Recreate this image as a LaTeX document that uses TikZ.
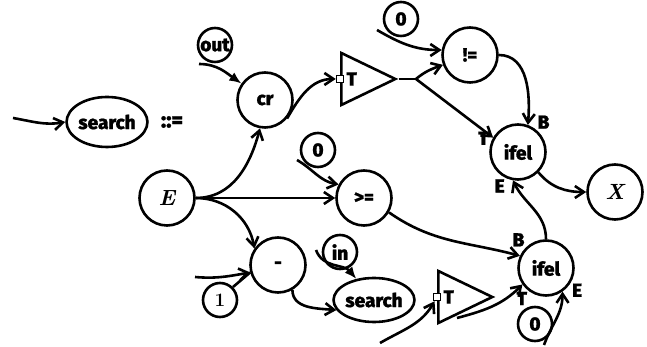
\documentclass[tikz,border=0pt]{standalone}
\usepackage{fontspec}
\setsansfont{Fira Sans}[BoldFont={Fira Sans ExtraBold}, BoldFeatures={FakeBold=1}]
\usetikzlibrary{arrows.meta,positioning,shapes.geometric}
\newcommand{\nodefont}{\sffamily\bfseries\fontsize{19}{21}\selectfont}
\newcommand{\mathletter}[1]{{\rmfamily\bfseries\itshape\fontsize{22}{24}\selectfont #1}}
\tikzset{
  op/.style={circle, draw=black, line width=2.6pt, minimum size=55pt, inner sep=0pt, font=\nodefont},
  const/.style={circle, draw=black, line width=2.6pt, minimum size=34pt, inner sep=0pt, font=\nodefont},
  call/.style={ellipse, draw=black, line width=2.6pt, minimum width=80pt, minimum height=50pt, inner sep=0pt, font=\nodefont},
  gate/.style={isosceles triangle, isosceles triangle stretches, draw=black, line width=2.6pt, minimum height=54pt, minimum width=52pt, inner sep=0pt, anchor=west},
  pin/.style={rectangle, draw=black, line width=1.5pt, fill=white, minimum size=7pt, inner sep=0pt},
  tag/.style={font=\nodefont, inner sep=1pt},
  arrow/.style={-{Straight Barb[length=9pt,width=12pt]}, line width=2.6pt},
  feed/.style={-{Latex[length=12pt,width=10pt]}, line width=2.6pt},
  wire/.style={line width=2.6pt}
}

\begin{document}
\begin{tikzpicture}[x=1pt,y=1pt]
  \useasboundingbox (0,0) rectangle (647,347);
  % left hand side
  \coordinate (start) at (13,229);
  \node[call] (srch1) at (107,225) {search};
  \node[tag, font=\nodefont\fontsize{22}{24}\selectfont] (defsym) at (172,225) {::=};
  \draw[arrow] (start) to[out=-10,in=190] (srch1.west);

  % inputs
  \node[op] (E) at (167,149) {\mathletter{E}};
  \node[const] (out) at (215,302) {out};
  \coordinate (outT) at (199,283);
  \node[op] (cr) at (265,247) {cr};
  \node[op] (ge) at (364,149) {>=};
  \node[const] (zero2) at (318,197) {0};
  \coordinate (zero2T) at (297,187);
  \node[op] (minus) at (278,82) {-};
  \node[const] (one) at (220,47) {\rmfamily\bfseries 1};
  \coordinate (oneT) at (195,70);
  \node[const] (in) at (340,95) {in};
  \coordinate (inT) at (316,97);
  \node[call, minimum width=78pt, minimum height=44pt] (srch2) at (374,47) {search};

  % gates
  \node[gate] (gate1) at (340,268) {};
  \node[pin] (sq1) at (gate1.west) {};
  \node[tag, right=1pt of sq1] {T};
  \node[gate] (gate2) at (437,50) {};
  \node[pin] (sq2) at (gate2.west) {};
  \node[tag, right=1pt of sq2] {T};
  \coordinate (g2T) at (380,4);
  \coordinate (g2out) at (457,29);
  \coordinate (split) at (416,268);

  % tests and results
  \node[op] (ne) at (470,292) {!=};
  \node[const] (zero1) at (401,328) {0};
  \coordinate (zero1T) at (377,317);
  \node[op, label={[tag]50:B}, label={[tag]168:T}, label={[tag]245:E}] (ifel1) at (518,195) {ifel};
  \node[op] (X) at (615,155) {\mathletter{X}};
  \node[op, label={[tag]135:B}, label={[tag]232:T}, label={[tag]-30:E}] (ifel2) at (546,79) {ifel};
  \node[const] (zero3) at (535,23) {0};
  \coordinate (zero3T) at (544,2);

  \draw[feed] (outT) to[out=0,in=145] (cr.145);
  \draw[arrow] (E.east) to[out=0,in=-105] (cr.-100);
  \draw[arrow] (E.east) -- (ge.west);
  \draw[arrow] (E.east) to[out=0,in=100] (minus.145);
  \draw[arrow] (zero2T) to[out=-30,in=170] (ge.152);
  \draw[arrow] (oneT) to[out=-5,in=190] (minus.195);
  \draw[wire] (one.45) -- (minus.195);
  \draw[arrow] (minus.-60) to[out=-90,in=175] (srch2.195);
  \draw[feed] (inT) to[out=-70,in=130] (srch2.130);
  \draw[arrow] (cr.-40) to[out=60,in=180] (sq1);
  \draw[wire] (gate1.east) -- (split);
  \draw[arrow] (split) to[out=40,in=200] (ne.200);
  \draw[arrow] (split) -- (ifel1.150);
  \draw[arrow] (zero1T) to[out=-30,in=180] (ne.170);
  \draw[arrow] (ne.east) to[out=0,in=85] (ifel1.70);
  \draw[arrow] (g2T) to[out=30,in=240] (sq2);
  \draw[arrow] (g2out) to[out=15,in=-135] (ifel2.-145);
  \draw[arrow] (ge.-30) to[out=-35,in=165] (ifel2.155);
  \draw[arrow] (zero3T) to[out=70,in=-90] (ifel2.-55);
  \draw[arrow] (ifel2.north) to[out=90,in=-65] (ifel1.-100);
  \draw[arrow] (ifel1.-45) to[out=-50,in=180] (X.west);
\end{tikzpicture}
\end{document}
